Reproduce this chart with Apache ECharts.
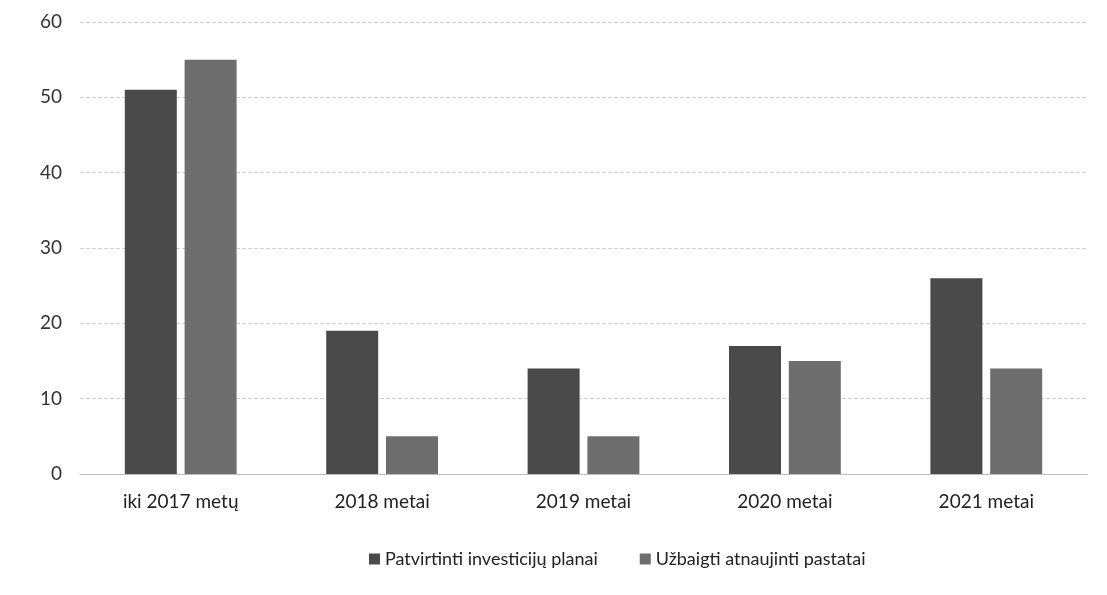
<!DOCTYPE html>
<html>
<head>
<meta charset="utf-8">
<script src="https://cdn.jsdelivr.net/npm/echarts@6/dist/echarts.min.js"></script>
<style>
  html, body { margin: 0; padding: 0; background: #fff; }
  #chart { width: 1107px; height: 595px; }
</style>
</head>
<body>
<div id="chart"></div>
<script>
// kategorijos ir reikšmės
var categories = ['iki 2017 metų', '2018 metai', '2019 metai', '2020 metai', '2021 metai'];
var planai = [51, 19, 14, 17, 26];
var pastatai = [55, 5, 5, 15, 14];
var seriesNames = ['Patvirtinti investicijų planai', 'Užbaigti atnaujinti pastatai'];

var font = 'Lato, "Open Sans", sans-serif';

function init(){
	var myChart = echarts.init(document.getElementById('chart'));
	var option = {
		backgroundColor: '#fff',
		animation: false,
		textStyle: { fontFamily: font },
		grid: { left: 80, right: 20, top: 22, bottom: 121 },
		legend: {
			bottom: 22,
			left: 364,
			itemWidth: 11,
			itemHeight: 11,
			itemGap: 42,
			icon: 'rect',
			textStyle: { fontSize: 18, color: '#222', fontFamily: font }
		},
		xAxis: {
			type: 'category',
			data: categories,
			axisLine: { lineStyle: { color: '#bdbdbd' } },
			axisTick: { show: false },
			axisLabel: { fontSize: 19, color: '#222', margin: 18 }
		},
		yAxis: {
			type: 'value',
			min: 0,
			max: 60,
			interval: 10,
			axisLine: { show: false },
			axisTick: { show: false },
			axisLabel: { fontSize: 19, color: '#333', margin: 18 },
			splitLine: { lineStyle: { color: '#cfcfcf', type: 'dashed' } }
		},
		series: [
			{
				name: seriesNames[0],
				type: 'bar',
				data: planai,
				barWidth: 52,
				barGap: '15%',
				itemStyle: { color: '#4a4a4a' }
			},
			{
				name: seriesNames[1],
				type: 'bar',
				data: pastatai,
				barWidth: 52,
				itemStyle: { color: '#6e6e6e' }
			}
		]
	};
	myChart.setOption(option);
}
init();
</script>
</body>
</html>
